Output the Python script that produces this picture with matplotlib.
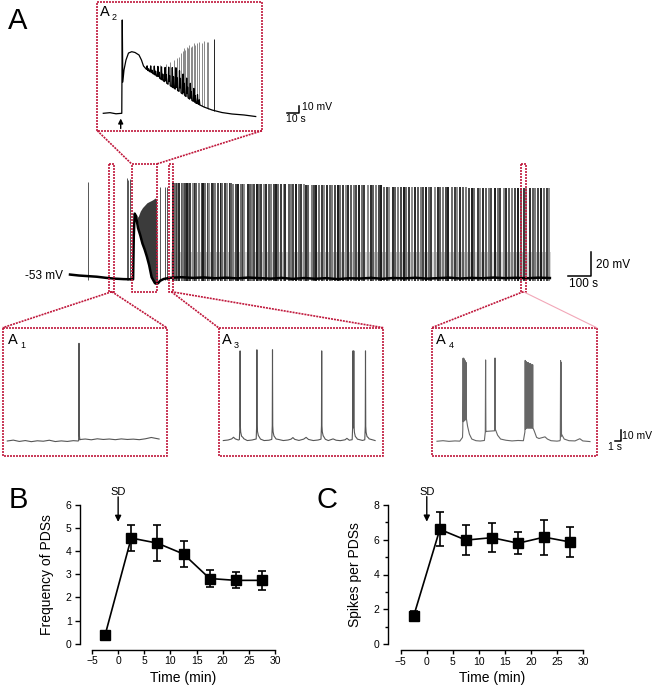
import numpy as np
import matplotlib
matplotlib.use('Agg')
import matplotlib.pyplot as plt
from matplotlib.patches import Rectangle

plt.rcParams['font.family'] = ['Liberation Sans', 'DejaVu Sans']

# ---------------- data ----------------
# Panel B / C (mean +- SEM)
time_min = [-2.5, 2.5, 7.5, 12.5, 17.5, 22.5, 27.5]
pds_freq = [0.37, 4.57, 4.35, 3.88, 2.82, 2.74, 2.74]
pds_freq_err = [0.05, 0.57, 0.78, 0.57, 0.36, 0.35, 0.41]
spikes_per_pds = [1.62, 6.60, 5.98, 6.12, 5.80, 6.15, 5.87]
spikes_per_pds_err = [0.30, 0.97, 0.85, 0.85, 0.63, 1.00, 0.85]
x_ticks = [-5, 0, 5, 10, 15, 20, 25, 30]
b_yticks = [0, 1, 2, 3, 4, 5, 6]
c_yticks = [0, 2, 4, 6, 8]

# Main trace (s, mV)
main_base_t = [0, 40, 80, 120, 160, 200, 240, 283, 286, 290, 296, 305, 315, 325,
               335, 345, 355, 366, 375, 381, 388, 395, 404, 420, 448, 500, 550,
               600, 650, 700, 750, 800, 850, 900, 950, 1000, 1050, 1100, 1150,
               1200, 1250, 1300, 1350, 1400, 1450, 1500, 1550, 1600, 1650, 1700,
               1750, 1800, 1850, 1900, 1950, 2000, 2050, 2100, 2152]
main_base_v = [-51.8, -52.6, -53.1, -53.6, -54.5, -55.2, -55.6, -55.8, -20, -1,
               -3, -13, -19, -26, -31, -37, -44, -54, -57, -59, -59.5, -59, -57,
               -55.5, -54.5, -54.0, -54.6, -54.2, -54.9, -54.4, -55.0, -54.3,
               -54.8, -55.2, -54.6, -55.4, -54.7, -55.3, -54.8, -55.6, -54.9,
               -55.1, -54.6, -55.3, -54.7, -55.0, -54.5, -55.2, -54.8, -54.4,
               -55.1, -54.6, -54.9, -54.3, -54.8, -54.5, -54.9, -54.4, -54.7]
sd_fill_t = [300, 305, 315, 325, 335, 345, 355, 366, 375, 381, 388, 393]
sd_fill_low = [-2, -13, -19, -26, -31, -37, -44, -54, -57, -59, -59.5, -59]
sd_fill_high = [-2, -4, 1, 4, 6, 8, 9, 10, 11, 12, 11, -59]
early_spike_t = [82, 254, 261, 269, 404, 426, 434]
early_spike_peak = [25, 29, 27, 28, 21, 21, 21]
pds_t = [462, 470, 478, 483, 491, 500, 507, 515, 526, 533, 540, 552, 560, 566,
         578, 590, 597, 605, 618, 625, 637, 645, 652, 664, 676, 683, 695, 702,
         716, 724, 733, 745, 752, 766, 775, 782, 796, 808, 815, 826, 840, 848,
         858, 871, 880, 893, 902, 914, 925, 933, 947, 958, 966, 980, 991, 1000,
         1013, 1026, 1034, 1048, 1060, 1068, 1083, 1095, 1104, 1117, 1130, 1139,
         1153, 1166, 1175, 1189, 1200, 1212, 1226, 1236, 1248, 1262, 1274, 1283,
         1298, 1310, 1320, 1335, 1348, 1357, 1372, 1385, 1394, 1409, 1422, 1432,
         1447, 1459, 1469, 1484, 1497, 1506, 1521, 1534, 1545, 1560, 1572, 1583,
         1598, 1611, 1620, 1636, 1648, 1659, 1674, 1687, 1697, 1712, 1725, 1736,
         1750, 1763, 1774, 1789, 1801, 1812, 1828, 1840, 1851, 1866, 1879, 1890,
         1906, 1918, 1930, 1945, 1957, 1969, 1984, 1996, 2008, 2023, 2035, 2047,
         2062, 2074, 2086, 2100, 2112, 2125, 2138, 2150]
pds_peak_mV = [24.5, 23.5, 22.5, 21.5, 20.5]   # peak level in successive fifths

# Inset A2 (s, mV)
a2_env_t = [0, 5.6, 10.6, 15.4, 15.8, 16.25, 17.25, 18.9, 21, 23.7, 26.4, 29.75,
            31.8, 33.5, 36.4, 40.6, 45.6, 51.4, 57.25, 63.9, 70.6, 77.25, 83.9,
            90.6, 98.9, 107.25, 117.25, 127]
a2_env_v = [-53, -52.1, -53.7, -53, 80.3, -8.3, 8.9, 23.1, 33.1, 35, 33.9, 30.3,
            23.1, 14.6, 8.9, 4.6, -1.1, -8.3, -15.4, -22.6, -31.1, -38.3, -44,
            -48.3, -51.9, -54, -55.4, -57.6]
a2_osc_t = [36.5, 37.7, 39.5, 40.6, 42.5, 43.6, 45.5, 46.4, 48.5, 49.6, 51.5, 52.4,
            54.5, 55.3, 57.5, 58.6, 60.5, 61.4, 63.5, 64.3, 66.5, 67.4, 69.5, 70.3,
            72.5, 73.4, 75.5, 76.6, 78.5, 80]
a2_osc_amp = [6, 3, 9, 4, 12, 6, 15, 8, 18, 9, 21, 12, 25, 14, 28, 16, 31, 18,
              30, 20, 29, 17, 27, 15, 23, 12, 19, 10, 13, 7]
a2_spike_t = [47.5, 52, 55.5, 58.5, 61.7, 63.0, 64.5, 66.0, 67.25, 68.4, 69.5,
              70.6, 71.7, 72.8, 73.9, 75.8, 76.8, 77.8, 80, 82, 83.9, 86.2, 87.5,
              92.5]
a2_spike_peak = [16, 18, 20, 23, 25.6, 28, 32.7, 36, 39.9, 38, 42.1, 40, 44.6, 41,
                 43.1, 47, 45, 47, 49.3, 47, 50.7, 49.3, 49.3, 53.1]

# Inset A1
a1_base_t = [0, 1, 2, 3, 4, 5, 6, 7, 8, 9, 10, 11, 11.8, 12.2, 13, 14, 15, 16,
             17, 18, 19, 20, 21, 22, 23, 24, 25.3]
a1_base_v = [-53, -52.2, -53.4, -52.6, -53.6, -52.8, -53.2, -52.3, -53.5, -52.9,
             -53.4, -52.7, -53.0, -51.6, -51.2, -51.9, -51.0, -51.6, -51.2, -51.8,
             -51.1, -51.6, -51.3, -51.8, -51.0, -49.8, -51.2]
a1_spike_t = [11.95]
a1_spike_peak = [35.8]

# Inset A3
a3_base_t = [0, 0.8, 1.4, 1.7, 2.0, 2.5, 3.3, 4.0, 4.8, 5.9, 6.8, 7.6, 8.5, 9.2,
             10.0, 10.8, 11.3, 11.6, 11.9, 12.6, 13.4, 13.8, 14.2, 15.0, 15.8,
             16.7, 17.5, 18.3, 18.8, 19.5, 20.3, 20.6, 21.0, 22.2, 23.2, 24.2, 25.3]
a3_base_v = [-53.5, -53, -52, -50.5, -52, -53, -51.5, -53.5, -53, -51.5, -53.5,
             -53.2, -51.8, -52.5, -53.5, -53, -52.2, -50.8, -52.4, -53.4, -52.2,
             -50.6, -52.5, -53.5, -53, -51.6, -53.5, -52, -53.2, -53.6, -52.8,
             -51.5, -53.2, -52.0, -53.4, -51.8, -53.5]
a3_spike_t = [2.8, 5.6, 8.2, 16.4, 21.6, 21.75, 23.7]
a3_spike_peak = [28, 29, 29, 28, 28, 28, 28]

# Inset A4
a4_base_t = [0, 1, 2, 3, 3.8, 4.25, 4.35, 4.9, 5.1, 5.4, 5.8, 6.5, 7.2, 7.9, 8.05,
             8.3, 9.6, 9.75, 10.1, 10.6, 11.5, 12.5, 13.5, 14.4, 14.65, 14.8, 16.0,
             16.2, 16.6, 17.0, 18.0, 18.4, 19.0, 20.0, 20.5, 20.75, 21.2, 22.0,
             23.0, 23.8, 24.3, 25.5]
a4_base_v = [-53.5, -53, -53.6, -53.2, -53.4, -50, -36, -33, -40, -47, -51.5, -53,
             -53.3, -52.8, -45, -44.5, -44, -43, -48, -51.5, -52.6, -53.2, -52.8,
             -53, -45, -41.5, -41.5, -44, -50, -51, -49.5, -51.5, -53, -53.4, -53,
             -47, -51.5, -53, -53.2, -51.2, -53.2, -53.8]
a4_spike_t = [4.35, 4.45, 4.55, 4.65, 4.75, 4.85, 8.1, 9.67, 14.7, 14.85, 15.0,
              15.2, 15.4, 15.6, 15.8, 15.95, 20.6, 20.7]
a4_spike_peak = [22, 22, 21, 20, 19, 18, 20.4, 22.2, 20, 19, 18, 18, 17, 17, 16,
                 16, 19.8, 18]

# ---------------- layout helpers ----------------
W, H = 660, 687
fig = plt.figure(figsize=(6.6, 6.87), dpi=100)
RED = '#c0183c'
DASH = (0, (1.2, 0.6))


def px_rect(l, t, r, b):
    return [l / W, 1 - b / H, (r - l) / W, (b - t) / H]


def trace_ax(l, t, r, b, x0, sx, y0, v0, sy):
    ax = fig.add_axes(px_rect(l, t, r, b))
    ax.set_xlim((l - x0) / sx, (r - x0) / sx)
    ax.set_ylim(v0 - (b - y0) / sy, v0 + (y0 - t) / sy)
    ax.axis('off')
    return ax


def render(base_t, base_v, sp_t, sp_peak, sdt, sfrac):
    base_t = np.asarray(base_t, float)
    base_v = np.asarray(base_v, float)
    sdt = np.asarray(sdt, float)
    sfrac = np.asarray(sfrac, float)
    pts = list(base_t)
    for s in sp_t:
        pts += list(s + sdt)
    tt = np.unique(np.clip(pts, base_t[0], base_t[-1]))
    bb = np.interp(tt, base_t, base_v)
    add = np.zeros_like(tt)
    for s, p in zip(sp_t, sp_peak):
        b0 = np.interp(s, base_t, base_v)
        a = np.interp(tt, s + sdt, sfrac * (p - b0), left=0, right=0)
        add = np.maximum(add, a)
    return tt, bb + add


# ---------------- main trace ----------------
axm = trace_ax(60, 150, 560, 300, 70, 0.223, 276, -53, 1.2)
shades = ['#1a1a1a', '#6a6a6a', '#3a3a3a', '#8a8a8a', '#2a2a2a', '#5a5a5a',
          '#7a7a7a', '#444444']
pcols = [shades[i % len(shades)] for i in range(len(pds_t))]
seg = len(pds_t) / len(pds_peak_mV)
peaks = [pds_peak_mV[min(int(i / seg), len(pds_peak_mV) - 1)] for i in range(len(pds_t))]
axm.vlines(pds_t, -55, -33, colors='#b0b0b0', lw=2.8, alpha=0.5)
axm.vlines(pds_t, -57.5, peaks, colors=pcols, lw=1.4)
axm.vlines(early_spike_t, -56.5, early_spike_peak, colors='#555555', lw=0.7)
axm.fill_between(sd_fill_t, sd_fill_low, sd_fill_high, color='#262626', lw=0,
                 alpha=0.9)
axm.plot(main_base_t, main_base_v, color='black', lw=1.8)

# ---------------- inset A2 ----------------
axa2 = trace_ax(97.3, 1.7, 262, 130.7, 103.3, 1.2, 113.3, -53, 0.7)
tt, vv = render(a2_env_t, a2_env_v, a2_osc_t,
                np.interp(a2_osc_t, a2_env_t, a2_env_v) + np.asarray(a2_osc_amp),
                [-0.5, 0, 0.5], [0, 1, 0])
axa2.vlines(a2_spike_t[:-1], np.interp(a2_spike_t[:-1], a2_env_t, a2_env_v),
            a2_spike_peak[:-1], colors='#888888', lw=0.7)
axa2.vlines(a2_spike_t[-1:], np.interp(a2_spike_t[-1:], a2_env_t, a2_env_v),
            a2_spike_peak[-1:], colors='#222222', lw=0.7)
axa2.plot(tt, vv, color='black', lw=0.9)

# ---------------- insets A1, A3, A4 ----------------
axa1 = trace_ax(2.7, 327.7, 166.7, 456, 7.3, 6.0, 441, -53, 1.1)
tt, vv = render(a1_base_t, a1_base_v, a1_spike_t, a1_spike_peak,
                [-0.06, 0, 0.06, 0.15], [0, 1, 0.05, 0])
axa1.plot(tt, vv, color='#555555', lw=0.8)

pds_dt = [-0.12, -0.04, 0, 0.04, 0.1, 0.25, 0.6]
pds_fr = [0, 0.15, 1, 0.15, 0.08, 0.03, 0]
axa3 = trace_ax(218.5, 327.7, 383.3, 455.7, 223.3, 6.0, 440, -53, 1.1)
tt, vv = render(a3_base_t, a3_base_v, a3_spike_t, a3_spike_peak, pds_dt, pds_fr)
axa3.plot(tt, vv, color='#555555', lw=0.8)

axa4 = trace_ax(431.7, 327.7, 596.7, 455.7, 437, 6.0, 440.7, -53, 1.1)
tt, vv = render(a4_base_t, a4_base_v, a4_spike_t, a4_spike_peak,
                [-0.05, 0, 0.05], [0, 1, 0])
axa4.plot(tt, vv, color='#666666', lw=0.8)

# ---------------- panels B and C ----------------
def stat_panel(l, r, t, b, yvals, yerr, yticks, ylim, ylabel, minor, sd_arrow,
               sd_text_y, out_left):
    ax = fig.add_axes(px_rect(l, t, r, b))
    ax.set_xlim(-5, 30)
    ax.set_ylim(*ylim)
    for s in ['top', 'right']:
        ax.spines[s].set_visible(False)
    ax.spines['left'].set_position(('outward', out_left * 0.72))
    ax.spines['bottom'].set_position(('outward', 6.3 * 0.72))
    for s in ['left', 'bottom']:
        ax.spines[s].set_linewidth(1.0)
    ax.set_xticks(x_ticks)
    ax.set_yticks(yticks)
    if minor:
        ax.set_yticks(minor, minor=True)
    ax.tick_params(which='both', direction='out', width=1.0, labelsize=7.5)
    ax.tick_params(axis='y', which='major', length=3.5, pad=2.5)
    ax.tick_params(axis='y', which='minor', length=2.2)
    ax.tick_params(axis='x', length=3.0, pad=1.5)
    ax.errorbar(time_min, yvals, yerr=yerr, fmt='-s', color='black', ms=6.5,
                lw=1.2, elinewidth=1.2, capsize=3, capthick=1.2, clip_on=False,
                zorder=3)
    ax.set_ylabel(ylabel, fontsize=10)
    ax.set_xlabel('Time (min)', fontsize=10)
    ax.yaxis.set_label_coords((-26 - out_left) / (r - l), 0.5)
    ax.xaxis.set_label_coords(0.5, (b - 671) / (b - t))
    ax.annotate('', xy=(0, sd_arrow[1]), xytext=(0, sd_arrow[0]),
                arrowprops=dict(arrowstyle='-|>', color='black', lw=1.0,
                                mutation_scale=9, shrinkA=0, shrinkB=0),
                annotation_clip=False)
    ax.text(0, sd_text_y, 'SD', ha='center', va='center', fontsize=8,
            clip_on=False)
    return ax


stat_panel(92, 275, 505, 643.7, pds_freq, pds_freq_err, b_yticks, (0, 6),
           'Frequency of PDSs', None, (6.35, 5.27), 6.56, 12)
stat_panel(400.7, 583.3, 505, 644, spikes_per_pds, spikes_per_pds_err, c_yticks,
           (0, 8), 'Spikes per PDSs', [1, 3, 5, 7], (8.48, 7.04), 8.75, 12.7)

# ---------------- overlay: boxes, connectors, labels, scale bars ----------------
ov = fig.add_axes([0, 0, 1, 1])
ov.set_xlim(0, W)
ov.set_ylim(H, 0)
ov.axis('off')
ov.set_zorder(10)

boxes = [(109.3, 164, 5, 127.7), (131.7, 164, 25, 128.3), (169.3, 164, 4, 127.7),
         (521, 164, 4.7, 127.7), (97.3, 1.7, 164.7, 129), (2.7, 327.7, 164, 128.3),
         (218.5, 327.7, 164.8, 128), (431.7, 327.7, 165, 128)]
for (x, y, w, h) in boxes:
    ov.add_patch(Rectangle((x, y), w, h, fill=False, ec=RED, lw=1.2, ls=DASH))

lines = [((97.3, 130.7), (131.7, 164)), ((262, 130.7), (156.7, 164)),
         ((111.8, 291.7), (2.7, 327.7)), ((111.8, 291.7), (166.7, 327.7)),
         ((171.3, 291.7), (218.5, 327.7)), ((171.3, 291.7), (383.3, 327.7)),
         ((523.3, 291.7), (431.7, 327.7))]
for p, q in lines:
    ov.plot([p[0], q[0]], [p[1], q[1]], color=RED, lw=1.2, ls=DASH)
ov.plot([523.3, 596.7], [291.7, 327.7], color='#f2a7b8', lw=0.8)

# panel letters
ov.text(7.5, 21, 'A', fontsize=21, ha='left', va='center')
ov.text(9, 500, 'B', fontsize=21, ha='left', va='center')
ov.text(316, 500, 'C', fontsize=21, ha='left', va='center')
for (x, y, sub) in [(99.5, 12, '2'), (7.5, 340, '1'), (221.5, 340, '3'),
                    (436, 340, '4')]:
    ov.text(x, y, 'A', fontsize=10.5, ha='left', va='center')
    ov.text(x + 12.5, y + 5.5, sub, fontsize=6.5, ha='left', va='center')

# A2 arrow
ov.annotate('', xy=(120.7, 118.5), xytext=(120.7, 128.5),
            arrowprops=dict(arrowstyle='-|>', color='black', lw=1.0,
                            mutation_scale=7, shrinkA=0, shrinkB=0))

# scale bars
ov.plot([287, 299, 299], [113.3, 113.3, 106], color='black', lw=1.1)
ov.text(302.5, 107, '10 mV', fontsize=7.5, ha='left', va='center')
ov.text(286.5, 119, '10 s', fontsize=7.5, ha='left', va='center')

ov.plot([568.3, 590.7, 590.7], [275.7, 275.7, 251.7], color='black', lw=1.1)
ov.text(596, 265, '20 mV', fontsize=8.5, ha='left', va='center')
ov.text(569, 284, '100 s', fontsize=8.5, ha='left', va='center')
ov.text(63, 276, '-53 mV', fontsize=8.5, ha='right', va='center')

ov.plot([615, 621, 621], [441, 441, 430], color='black', lw=1.1)
ov.text(622.5, 436, '10 mV', fontsize=7.5, ha='left', va='center')
ov.text(608, 447.5, '1 s', fontsize=7.5, ha='left', va='center')

fig.savefig('out.png', dpi=100)
